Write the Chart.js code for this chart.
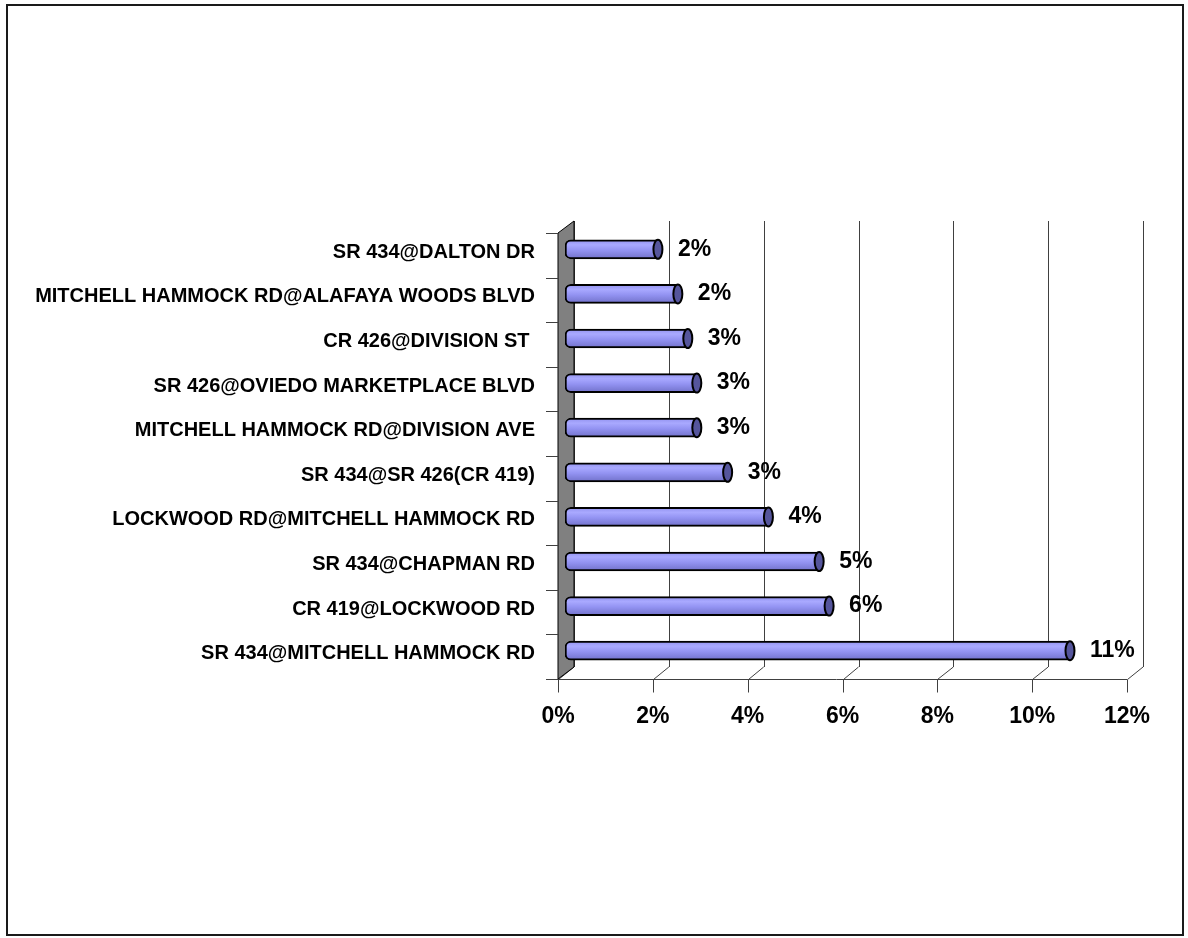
<!DOCTYPE html>
<html>
<head>
<meta charset="utf-8">
<script src="https://cdn.jsdelivr.net/npm/chart.js@4.4.1/dist/chart.umd.min.js"></script>
<style>
  html, body { margin: 0; padding: 0; background: #fff; }
  #wrap { width: 1188px; height: 938px; }
</style>
</head>
<body>
<div id="wrap"><canvas id="myBarChart" width="1188" height="938"></canvas></div>
<script>
// intersections, top to bottom
const categories = [
    'SR 434@DALTON DR',
    'MITCHELL HAMMOCK RD@ALAFAYA WOODS BLVD',
    'CR 426@DIVISION ST ',
    'SR 426@OVIEDO MARKETPLACE BLVD',
    'MITCHELL HAMMOCK RD@DIVISION AVE',
    'SR 434@SR 426(CR 419)',
    'LOCKWOOD RD@MITCHELL HAMMOCK RD',
    'SR 434@CHAPMAN RD',
    'CR 419@LOCKWOOD RD',
    'SR 434@MITCHELL HAMMOCK RD'
];
// share of crashes, percent
const shares = [1.96, 2.38, 2.59, 2.78, 2.78, 3.43, 4.29, 5.36, 5.57, 10.65];
const xTicks = [0, 2, 4, 6, 8, 10, 12];

// fake 3d depth: front and back plane offsets from the bar plane
const FRONT = { dx: -7, dy: 6 };
const BACK = { dx: 9, dy: -6 };
const FONT = '"Liberation Sans", Arial, sans-serif';

const frame3d = {
    id: 'frame3d',
    beforeDraw(chart) {
        const c = chart.ctx;
        c.save();
        c.fillStyle = '#fff';
        c.fillRect(0, 0, chart.width, chart.height);
        c.strokeStyle = '#1a1a1a';
        c.lineWidth = 2;
        c.strokeRect(7, 5, 1176, 930);
        c.restore();
    },
    beforeDatasetsDraw(chart) {
        const c = chart.ctx;
        const xs = chart.scales.x, ys = chart.scales.y;
        const top = ys.top, bottom = ys.bottom;
        c.save();
        c.lineWidth = 1;
        c.strokeStyle = '#404040';
        // back wall gridlines
        xTicks.forEach(v => {
            const x = Math.round(xs.getPixelForValue(v) + BACK.dx) + 0.5;
            c.beginPath();
            c.moveTo(x, top + BACK.dy);
            c.lineTo(x, bottom + BACK.dy);
            c.stroke();
        });
        // floor: front edge, diagonals, tick marks
        const fy = Math.round(bottom + FRONT.dy) + 0.5;
        c.beginPath();
        c.moveTo(546, fy);
        c.lineTo(xs.getPixelForValue(12) + FRONT.dx, fy);
        c.stroke();
        xTicks.forEach(v => {
            const p = xs.getPixelForValue(v);
            const xf = Math.round(p + FRONT.dx) + 0.5;
            c.beginPath();
            c.moveTo(xf, fy);
            c.lineTo(p + BACK.dx, bottom + BACK.dy);
            c.moveTo(xf, fy);
            c.lineTo(xf, fy + 13);
            c.stroke();
        });
        // left side wall
        const l = xs.getPixelForValue(0);
        c.fillStyle = '#808080';
        c.strokeStyle = '#000';
        c.beginPath();
        c.moveTo(l + FRONT.dx, top + FRONT.dy);
        c.lineTo(l + BACK.dx, top + BACK.dy);
        c.lineTo(l + BACK.dx, bottom + BACK.dy);
        c.lineTo(l + FRONT.dx, bottom + FRONT.dy);
        c.closePath();
        c.fill();
        c.stroke();
        // category tick marks on the front edge
        const band = (bottom - top) / categories.length;
        c.strokeStyle = '#404040';
        for (let k = 0; k <= categories.length; k++) {
            const y = Math.round(top + k * band + FRONT.dy) + 0.5;
            c.beginPath();
            c.moveTo(546, y);
            c.lineTo(l + FRONT.dx, y);
            c.stroke();
        }
        c.restore();
    },
    afterDatasetsDraw(chart) {
        const c = chart.ctx;
        const meta = chart.getDatasetMeta(0);
        c.save();
        meta.data.forEach((bar, i) => {
            const h = bar.height;
            // cylinder end cap
            c.beginPath();
            c.ellipse(bar.x, bar.y, 4.5, h / 2, 0, 0, Math.PI * 2);
            c.fillStyle = '#55559c';
            c.fill();
            c.lineWidth = 2;
            c.strokeStyle = '#000';
            c.stroke();
            // value label
            c.fillStyle = '#000';
            c.font = 'bold 23px ' + FONT;
            c.textAlign = 'left';
            c.textBaseline = 'middle';
            c.fillText(Math.round(shares[i]) + '%', bar.x + 20, bar.y);
        });
        c.restore();
    }
};

document.addEventListener('DOMContentLoaded', function () {
    const ctx = document.getElementById('myBarChart').getContext('2d');
    const myBarChart = new Chart(ctx, {
        type: 'bar',
        data: {
            labels: categories,
            datasets: [{
                data: shares,
                backgroundColor: function (context) {
                    const chart = context.chart;
                    const ys = chart.scales.y;
                    const py = ys ? ys.getPixelForValue(context.dataIndex) : NaN;
                    if (!isFinite(py)) return '#9999ff';
                    const g = chart.ctx.createLinearGradient(0, py - 9, 0, py + 9);
                    g.addColorStop(0, '#9494f0');
                    g.addColorStop(0.25, '#a9a9ff');
                    g.addColorStop(0.55, '#9393f2');
                    g.addColorStop(1, '#7373cc');
                    return g;
                },
                borderColor: '#000',
                borderWidth: 2,
                borderSkipped: false,
                borderRadius: { topLeft: 6, bottomLeft: 6, topRight: 0, bottomRight: 0 },
                barThickness: 19
            }]
        },
        options: {
            indexAxis: 'y',
            responsive: false,
            animation: false,
            layout: { padding: { top: 227, right: 54, left: 0, bottom: 0 } },
            plugins: {
                legend: { display: false },
                tooltip: { enabled: false }
            },
            scales: {
                x: {
                    min: 0,
                    max: 12,
                    grid: { display: false },
                    border: { display: false },
                    afterFit: s => { s.height = 265; },
                    ticks: {
                        stepSize: 2,
                        padding: 22,
                        labelOffset: -7,
                        color: '#000',
                        font: { family: FONT, size: 23, weight: 'bold' },
                        callback: v => v + '%'
                    }
                },
                y: {
                    grid: { display: false },
                    border: { display: false },
                    afterFit: s => { s.width = 565; },
                    ticks: {
                        autoSkip: false,
                        padding: 22,
                        labelOffset: 3,
                        color: '#000',
                        font: { family: FONT, size: 20, weight: 'bold' }
                    }
                }
            }
        },
        plugins: [frame3d]
    });
});
</script>
</body>
</html>
